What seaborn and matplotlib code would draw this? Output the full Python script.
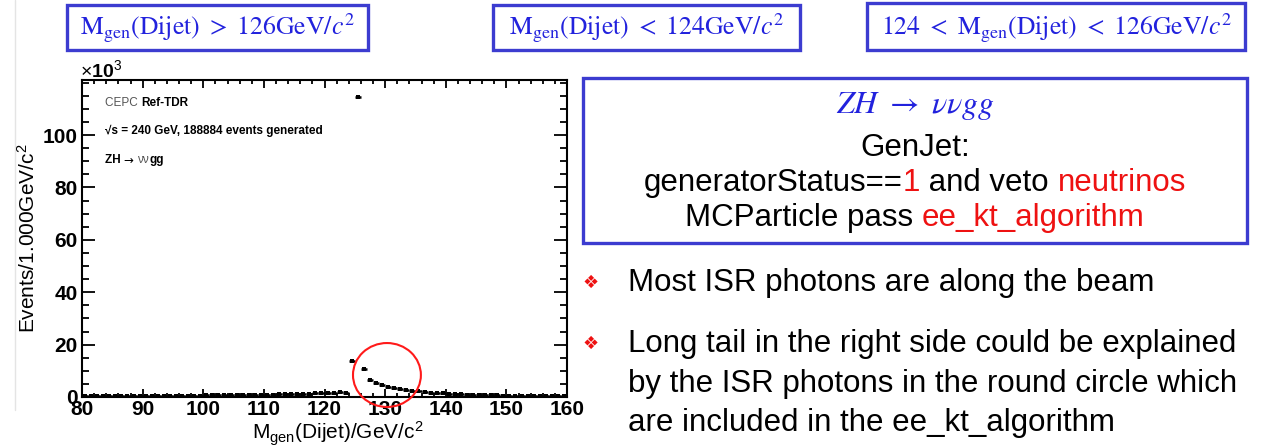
import numpy as np
import pandas as pd
import matplotlib
matplotlib.use("Agg")
import matplotlib.pyplot as plt
import seaborn as sns
from matplotlib.patches import Rectangle, Ellipse
from matplotlib.lines import Line2D
from matplotlib.ticker import MultipleLocator

# ---------------- data ----------------
bin_low = list(range(80, 160))  # 1 GeV bins, lower edges
events_k = [
    0.30, 0.30, 0.32, 0.33, 0.34, 0.35, 0.36, 0.37, 0.38, 0.40,   # 80-89
    0.41, 0.42, 0.44, 0.45, 0.47, 0.48, 0.50, 0.52, 0.54, 0.56,   # 90-99
    0.58, 0.60, 0.62, 0.65, 0.67, 0.70, 0.73, 0.76, 0.80, 0.84,   # 100-109
    0.88, 0.92, 0.97, 1.02, 1.08, 1.14, 1.20, 1.27, 1.35, 1.45,   # 110-119
    1.55, 1.65, 1.80, 1.45, 13.8, 114.7, 10.6, 6.5, 5.4, 4.6,     # 120-129
    4.0, 3.5, 3.1, 2.7, 2.4, 2.1, 1.9, 1.7, 1.5, 1.35,            # 130-139
    1.20, 1.10, 1.00, 0.92, 0.85, 0.78, 0.72, 0.66, 0.61, 0.57,   # 140-149
    0.53, 0.49, 0.46, 0.43, 0.40, 0.38, 0.36, 0.34, 0.32, 0.30,   # 150-159
]
bin_width = 1.0
x_ticks = [80, 90, 100, 110, 120, 130, 140, 150, 160]
y_ticks = [0, 20, 40, 60, 80, 100]

box_titles = [
    r"$\mathrm{M_{gen}(Dijet)}\ >\ 126\mathrm{GeV}/c^{2}$",
    r"$\mathrm{M_{gen}(Dijet)}\ <\ 124\mathrm{GeV}/c^{2}$",
    r"$124\ <\ \mathrm{M_{gen}(Dijet)}\ <\ 126\mathrm{GeV}/c^{2}$",
]
info_title = r"$ZH\ \rightarrow\ \nu\nu g g$"
bullet_lines = [
    ["Most ISR photons are along the beam"],
    ["Long tail in the right side could be explained",
     "by the ISR photons in the round circle which",
     "are included in the ee_kt_algorithm"],
]

# ---------------- style ----------------
sns.set_theme(style="ticks")
plt.rcParams["font.family"] = ["Liberation Sans", "DejaVu Sans"]
plt.rcParams["mathtext.fontset"] = "custom"
plt.rcParams["mathtext.rm"] = "Liberation Sans"
plt.rcParams["mathtext.it"] = "Liberation Sans:italic"
plt.rcParams["mathtext.bf"] = "Liberation Sans:bold"
for k in ["text.color", "axes.labelcolor", "xtick.color", "ytick.color", "axes.edgecolor"]:
    plt.rcParams[k] = "black"

W, H = 1267, 447
fig = plt.figure(figsize=(W / 100, H / 100), dpi=100)
fig.patch.set_facecolor("white")
r = fig.canvas.get_renderer()

BLUE_T = "#2222dd"
BLUE_E = "#3c3cd0"
RED = "#ee1111"

def fx(px):
    return px / W

def fy(py):
    return 1 - py / H

# ---------------- histogram axes ----------------
ax = fig.add_axes([fx(82), fy(397), fx(567) - fx(82), fy(80) - fy(397)])
df = pd.DataFrame({"x": np.array(bin_low) + bin_width / 2, "y": events_k})
ax.errorbar(df["x"], df["y"], xerr=bin_width / 2, fmt="none",
            ecolor="black", elinewidth=1.8, capsize=0, zorder=3)
sns.scatterplot(data=df, x="x", y="y", marker="s", color="black", s=10,
                edgecolor="black", linewidth=0, ax=ax, zorder=4)
ax.set_xlim(80, 160)
ax.set_ylim(0, 121)
ax.set_xticks(x_ticks)
ax.set_yticks(y_ticks)
ax.xaxis.set_minor_locator(MultipleLocator(2))
ax.yaxis.set_minor_locator(MultipleLocator(5))
ax.set_xlabel("")
ax.set_ylabel("")
for sp in ax.spines.values():
    sp.set_linewidth(1.5)
    sp.set_color("black")
    sp.set_visible(True)
ax.tick_params(axis="both", which="both", direction="in", top=True, right=True,
               width=1.3, colors="black")
ax.tick_params(axis="x", which="major", length=5.5, pad=2)
ax.tick_params(axis="x", which="minor", length=2.8)
ax.tick_params(axis="y", which="major", length=9.5, pad=3)
ax.tick_params(axis="y", which="minor", length=4.8)
for lab in ax.get_xticklabels() + ax.get_yticklabels():
    lab.set_fontsize(15)
    lab.set_fontweight("bold")

ax.add_patch(Ellipse((130.3, 8.4), 11.2, 24.4, fill=False, edgecolor="#ff1a1a",
                     linewidth=1.5, clip_on=False, zorder=5))

fig.text(fx(28), fy(238), r"Events/1.000GeV/c$^{2}$", rotation=90,
         ha="center", va="center", fontsize=15)
fig.text(fx(338), fy(434), r"M$_{\mathrm{gen}}$(Dijet)/GeV/c$^{2}$",
         ha="center", va="center", fontsize=15)
fig.text(fx(80), fy(70), r"$\times$10$^{3}$", ha="left", va="center",
         fontsize=14, fontweight="bold")

# ---------------- helpers for multi-colour text ----------------
def width_of(s, **kw):
    t1 = fig.text(0, 0, s + "|", **kw)
    w1 = t1.get_window_extent(r).width
    t1.remove()
    t2 = fig.text(0, 0, "|", **kw)
    w2 = t2.get_window_extent(r).width
    t2.remove()
    return w1 - w2

def pieces(x_px, y_px, parts, align="left", **common):
    widths = [width_of(s, **{**common, **kw}) for s, kw in parts]
    total = sum(widths)
    x0 = x_px - total / 2 if align == "center" else x_px
    for (s, kw), w in zip(parts, widths):
        fig.text(fx(x0), fy(y_px), s, ha="left", va="center", **{**common, **kw})
        x0 += w

# in-plot labels
pieces(105, 103, [("CEPC ", {"color": "#555555"}),
                  ("Ref-TDR", {"fontweight": "bold"})], fontsize=8.5)
fig.text(fx(105), fy(131), "\u221As = 240 GeV, 188884 events generated",
         ha="left", va="center", fontsize=8.5, fontweight="bold")
pieces(105, 160, [("ZH ", {"fontweight": "bold"}),
                  ("\u2192 ", {"family": ["DejaVu Sans"]}),
                  ("\u03bd\u03bd", {"color": "#555555"}),
                  ("gg", {"fontweight": "bold"})], fontsize=8.5)

# ---------------- top boxes ----------------
boxes = [(67, 5, 368, 50), (493, 5, 800, 50), (867, 3, 1245, 50)]
for (x0, y0, x1, y1), title in zip(boxes, box_titles):
    fig.patches.append(Rectangle((fx(x0), fy(y1)), fx(x1) - fx(x0), fy(y0) - fy(y1),
                                 transform=fig.transFigure, fill=False,
                                 edgecolor=BLUE_E, linewidth=2.4))
    fig.text(fx((x0 + x1) / 2), fy(28), title, ha="center", va="center",
             fontsize=18.5, color=BLUE_T, math_fontfamily="stix")

# ---------------- info box ----------------
fig.patches.append(Rectangle((fx(583), fy(243)), fx(1247) - fx(583), fy(78) - fy(243),
                             transform=fig.transFigure, fill=False,
                             edgecolor=BLUE_E, linewidth=2.4))
cx = 915
fig.text(fx(cx), fy(106), info_title, ha="center", va="center", fontsize=23,
         color=BLUE_T, math_fontfamily="stix")
fig.text(fx(cx), fy(148), "GenJet:", ha="center", va="center", fontsize=22.5)
pieces(cx, 183, [("generatorStatus==", {}), ("1", {"color": RED}),
                 (" and veto ", {}), ("neutrinos", {"color": RED})],
       align="center", fontsize=22.5)
pieces(cx, 218, [("MCParticle pass ", {}), ("ee_kt_algorithm", {"color": RED})],
       align="center", fontsize=22.5)

# ---------------- bullets ----------------
ys = [[283], [344, 384, 423]]
for lines, yl in zip(bullet_lines, ys):
    fig.text(fx(591), fy(yl[0]), "\u2756", ha="center", va="center", fontsize=13,
             color=RED, family=["DejaVu Sans"])
    for s, y in zip(lines, yl):
        fig.text(fx(628), fy(y), s, ha="left", va="center", fontsize=22.5)

# faint slide edge line
fig.add_artist(Line2D([fx(15), fx(15)], [fy(0), fy(410)], transform=fig.transFigure,
                      color="#e4e4e4", linewidth=1))

fig.savefig("out.png", dpi=100, facecolor="white")
